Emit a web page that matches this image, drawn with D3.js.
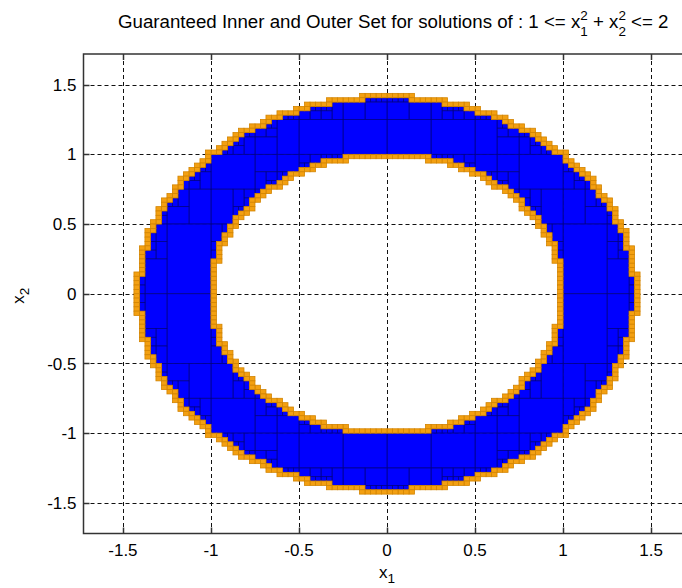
<!DOCTYPE html>
<html>
<head>
<meta charset="utf-8">
<script src="https://cdn.jsdelivr.net/npm/d3@7"></script>
<style>
  html, body { margin: 0; padding: 0; background: #fff; }
  svg { display: block; font-family: "Liberation Sans", Arial, Helvetica, sans-serif; }
</style>
</head>
<body>
<svg id="chart" width="682" height="588"></svg>
<script>
// Constraint 1 <= x1^2 + x2^2 <= 2, solved by set inversion (SIVIA)
const constraintBounds = [1, 2];
const initialBox = [[-2, 2], [-2, 2]];
const epsilon = 0.05;

// Axis limits and ticks
const xLimits = [-1.724, 1.724];
const yLimits = [-1.72, 1.72];
const xTicks = [-1.5, -1, -0.5, 0, 0.5, 1, 1.5];
const yTicks = [-1.5, -1, -0.5, 0, 0.5, 1, 1.5];
const xTickLabels = ["-1.5", "-1", "-0.5", "0", "0.5", "1", "1.5"];
const yTickLabels = ["-1.5", "-1", "-0.5", "0", "0.5", "1", "1.5"];

// Interval square
function isqr([a, b]) {
  if (a >= 0) return [a * a, b * b];
  if (b <= 0) return [b * b, a * a];
  return [0, Math.max(a * a, b * b)];
}

// Bisection paving: inner boxes are guaranteed solutions, boundary boxes are undetermined
function sivia(box, [lower, upper], eps) {
  const inner = [], boundary = [];
  const stack = [box];
  while (stack.length) {
    const [X, Y] = stack.pop();
    const sx = isqr(X), sy = isqr(Y);
    const lo = sx[0] + sy[0], hi = sx[1] + sy[1];
    if (hi < lower || lo > upper) continue;
    if (lo >= lower && hi <= upper) { inner.push([X, Y]); continue; }
    const wx = X[1] - X[0], wy = Y[1] - Y[0];
    if (Math.max(wx, wy) < eps) { boundary.push([X, Y]); continue; }
    if (wx >= wy) {
      const m = (X[0] + X[1]) / 2;
      stack.push([[X[0], m], Y], [[m, X[1]], Y]);
    } else {
      const m = (Y[0] + Y[1]) / 2;
      stack.push([X, [Y[0], m]], [X, [m, Y[1]]]);
    }
  }
  return { inner, boundary };
}

const paving = sivia(initialBox, constraintBounds, epsilon);

const svg = d3.select("#chart");
const plot = { left: 83.5, top: 54, bottom: 533.5, right: 690.5 };

const x = d3.scaleLinear().domain(xLimits).range([plot.left, plot.right]);
const y = d3.scaleLinear().domain(yLimits).range([plot.bottom, plot.top]);

const clipId = "plotclip";
svg.append("defs").append("clipPath").attr("id", clipId)
  .append("rect")
  .attr("x", plot.left).attr("y", plot.top)
  .attr("width", plot.right - plot.left).attr("height", plot.bottom - plot.top);

// Dashed grid
const grid = svg.append("g").attr("stroke", "#111").attr("stroke-width", 1)
  .attr("stroke-dasharray", "4,3").attr("fill", "none");
grid.selectAll("line.v").data(xTicks).join("line").attr("class", "v")
  .attr("x1", d => Math.round(x(d)) + 0.5).attr("x2", d => Math.round(x(d)) + 0.5)
  .attr("y1", plot.top).attr("y2", plot.bottom);
grid.selectAll("line.h").data(yTicks).join("line").attr("class", "h")
  .attr("y1", d => Math.round(y(d)) + 0.5).attr("y2", d => Math.round(y(d)) + 0.5)
  .attr("x1", plot.left).attr("x2", plot.right);

// Paving boxes
const boxes = svg.append("g").attr("clip-path", `url(#${clipId})`);
boxes.append("g").selectAll("rect").data(paving.inner).join("rect")
  .attr("x", d => x(d[0][0])).attr("y", d => y(d[1][1]))
  .attr("width", d => x(d[0][1]) - x(d[0][0]))
  .attr("height", d => y(d[1][0]) - y(d[1][1]))
  .attr("fill", "#0000ff").attr("stroke", "#00008a").attr("stroke-width", 0.8);
boxes.append("g").selectAll("rect").data(paving.boundary).join("rect")
  .attr("x", d => x(d[0][0])).attr("y", d => y(d[1][1]))
  .attr("width", d => x(d[0][1]) - x(d[0][0]))
  .attr("height", d => y(d[1][0]) - y(d[1][1]))
  .attr("fill", "#f3a012").attr("stroke", "#d38400").attr("stroke-width", 0.8);

// Axes frame and inward ticks
const axisColor = "#333";
const frame = svg.append("g").attr("stroke", axisColor).attr("stroke-width", 1.5).attr("fill", "none");
frame.append("rect").attr("x", plot.left).attr("y", plot.top)
  .attr("width", plot.right - plot.left).attr("height", plot.bottom - plot.top);
const tickLen = 6;
frame.selectAll("line.xb").data(xTicks).join("line").attr("class", "xb")
  .attr("x1", d => Math.round(x(d)) + 0.5).attr("x2", d => Math.round(x(d)) + 0.5)
  .attr("y1", plot.bottom).attr("y2", plot.bottom - tickLen);
frame.selectAll("line.xt").data(xTicks).join("line").attr("class", "xt")
  .attr("x1", d => Math.round(x(d)) + 0.5).attr("x2", d => Math.round(x(d)) + 0.5)
  .attr("y1", plot.top).attr("y2", plot.top + tickLen);
frame.selectAll("line.yl").data(yTicks).join("line").attr("class", "yl")
  .attr("y1", d => Math.round(y(d)) + 0.5).attr("y2", d => Math.round(y(d)) + 0.5)
  .attr("x1", plot.left).attr("x2", plot.left + tickLen);
frame.selectAll("line.yr").data(yTicks).join("line").attr("class", "yr")
  .attr("y1", d => Math.round(y(d)) + 0.5).attr("y2", d => Math.round(y(d)) + 0.5)
  .attr("x1", plot.right).attr("x2", plot.right - tickLen);

// Tick labels
const tickFont = 17;
svg.append("g").selectAll("text").data(xTicks).join("text")
  .attr("x", d => x(d)).attr("y", plot.bottom + 22.5)
  .attr("text-anchor", "middle").attr("font-size", tickFont).attr("fill", "#000")
  .text((d, i) => xTickLabels[i]);
svg.append("g").selectAll("text").data(yTicks).join("text")
  .attr("x", plot.left - 7).attr("y", d => y(d)).attr("dy", "0.36em")
  .attr("text-anchor", "end").attr("font-size", tickFont).attr("fill", "#000")
  .text((d, i) => yTickLabels[i]);

// Variable name with a subscript: "x" followed by a lowered index
function subscripted(text, base, index, size) {
  text.append("tspan").text(base);
  text.append("tspan").attr("font-size", size * 0.8).attr("dy", size * 0.3).text(index);
}

const xl = svg.append("text").attr("x", x(0)).attr("y", 578)
  .attr("text-anchor", "middle").attr("font-size", tickFont).attr("fill", "#000");
subscripted(xl, "x", "1", tickFont);

const yl = svg.append("text").attr("transform", `translate(24,${y(0) + 2}) rotate(-90)`)
  .attr("text-anchor", "middle").attr("font-size", tickFont).attr("fill", "#000");
subscripted(yl, "x", "2", tickFont);

// Title with stacked sub/superscripts
const titleFont = 18.7;
const small = titleFont * 0.72;
const digitW = small * 0.556;
const supShift = 8, subShift = 7.5;
const title = svg.append("text").attr("x", 118).attr("y", 28)
  .attr("font-size", titleFont).attr("fill", "#000");
title.append("tspan").text("Guaranteed Inner and Outer Set for solutions of : 1 <= x");
title.append("tspan").attr("font-size", small).attr("dy", -supShift).text("2");
title.append("tspan").attr("font-size", small).attr("dx", -digitW).attr("dy", supShift + subShift).text("1");
title.append("tspan").attr("dy", -subShift).text(" + x");
title.append("tspan").attr("font-size", small).attr("dy", -supShift).text("2");
title.append("tspan").attr("font-size", small).attr("dx", -digitW).attr("dy", supShift + subShift).text("2");
title.append("tspan").attr("dy", -subShift).text(" <= 2");
</script>
</body>
</html>
